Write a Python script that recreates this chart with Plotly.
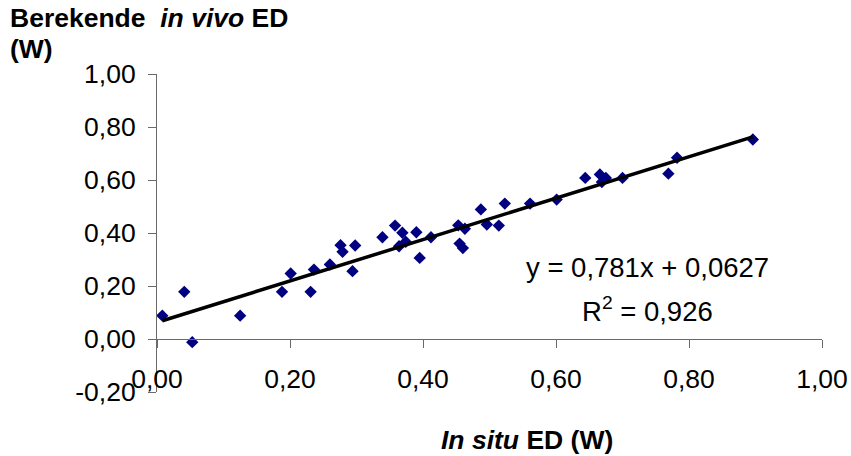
import plotly.graph_objects as go

in_situ = [0.008, 0.041, 0.053, 0.125, 0.188, 0.201, 0.231, 0.236, 0.260, 0.276,
           0.279, 0.294, 0.298, 0.339, 0.358, 0.364, 0.369, 0.374, 0.390, 0.395,
           0.412, 0.453, 0.463, 0.455, 0.460, 0.487, 0.496, 0.514, 0.523, 0.561,
           0.601, 0.644, 0.666, 0.669, 0.675, 0.700, 0.769, 0.782, 0.896]
in_vivo = [0.088, 0.178, -0.012, 0.088, 0.178, 0.247, 0.178, 0.262, 0.281, 0.354,
           0.329, 0.256, 0.353, 0.384, 0.428, 0.350, 0.401, 0.367, 0.403, 0.306,
           0.384, 0.429, 0.416, 0.360, 0.343, 0.489, 0.432, 0.428, 0.511, 0.511,
           0.526, 0.608, 0.621, 0.592, 0.608, 0.608, 0.624, 0.684, 0.753]

# Trend line (as printed on the chart)
slope = 0.781
intercept = 0.0627
r_squared_text = "0,926"

x_tickvals = [0.0, 0.2, 0.4, 0.6, 0.8, 1.0]
x_ticktext = ["0,00", "0,20", "0,40", "0,60", "0,80", "1,00"]
y_tickvals = [-0.2, 0.0, 0.2, 0.4, 0.6, 0.8, 1.0]
y_ticktext = ["-0,20", "0,00", "0,20", "0,40", "0,60", "0,80", "1,00"]

FONT = "Liberation Sans, Arial, sans-serif"
AXIS_COLOR = "#6a6a6a"

fig = go.Figure()
fig.add_trace(go.Scatter(
    x=in_situ, y=in_vivo, mode="markers",
    marker=dict(symbol="diamond", size=9.5, color="#000080", line=dict(width=0)),
    showlegend=False, hoverinfo="x+y"))

x_line = [min(in_situ), max(in_situ)]
y_line = [slope * v + intercept for v in x_line]
fig.add_trace(go.Scatter(
    x=x_line, y=y_line, mode="lines",
    line=dict(color="black", width=3.5), showlegend=False, hoverinfo="skip"))

y_min, y_max = -0.2, 1.0
zero_pos = (0 - y_min) / (y_max - y_min)

fig.update_layout(
    width=851, height=456,
    margin=dict(l=157, r=29, t=74, b=64, autoexpand=False),
    paper_bgcolor="white", plot_bgcolor="white",
    font=dict(family=FONT, size=26, color="black"),
    xaxis=dict(
        range=[0, 1.0], showgrid=False, zeroline=False,
        showline=True, linecolor=AXIS_COLOR, linewidth=1,
        anchor="free", position=zero_pos,
        ticks="outside", ticklen=8, tickcolor=AXIS_COLOR, tickwidth=1,
        tickvals=x_tickvals, ticktext=x_ticktext,
        ticklabelstandoff=8,
        tickfont=dict(family=FONT, size=26.5, color="black"),
    ),
    yaxis=dict(
        range=[y_min, y_max], showgrid=False, zeroline=False,
        showline=True, linecolor=AXIS_COLOR, linewidth=1,
        ticks="outside", ticklen=8, tickcolor=AXIS_COLOR, tickwidth=1,
        tickvals=y_tickvals, ticktext=y_ticktext,
        ticklabelstandoff=7,
        tickfont=dict(family=FONT, size=26.5, color="black"),
    ),
)

# equation annotations
fig.add_annotation(
    x=0.737, y=0.268, xref="x", yref="y", showarrow=False,
    text=f"y = {str(slope).replace('.', ',')}x + {str(intercept).replace('.', ',')}",
    font=dict(family=FONT, size=27.5, color="black"), xanchor="center", yanchor="middle")
fig.add_annotation(
    x=0.737, y=0.113, xref="x", yref="y", showarrow=False,
    text=f"R<sup>2</sup> = {r_squared_text}",
    font=dict(family=FONT, size=27.5, color="black"), xanchor="center", yanchor="middle")

# axis titles
fig.add_annotation(
    x=0, y=1, xref="paper", yref="paper", xanchor="left", yanchor="middle",
    xshift=-149, yshift=56, showarrow=False,
    text="<b>Berekende  <i>in vivo</i> ED</b>",
    font=dict(family=FONT, size=26.5, color="black"))
fig.add_annotation(
    x=0, y=1, xref="paper", yref="paper", xanchor="left", yanchor="middle",
    xshift=-149, yshift=25, showarrow=False,
    text="<b>(W)</b>",
    font=dict(family=FONT, size=26.5, color="black"))
fig.add_annotation(
    x=0.557, y=0, xref="paper", yref="paper", xanchor="center", yanchor="middle",
    yshift=-48, showarrow=False,
    text="<b><i>In situ</i> ED (W)</b>",
    font=dict(family=FONT, size=26.5, color="black"))

fig.write_html("out.html", config={"displayModeBar": False},
               post_script="document.body.style.margin='0';")
